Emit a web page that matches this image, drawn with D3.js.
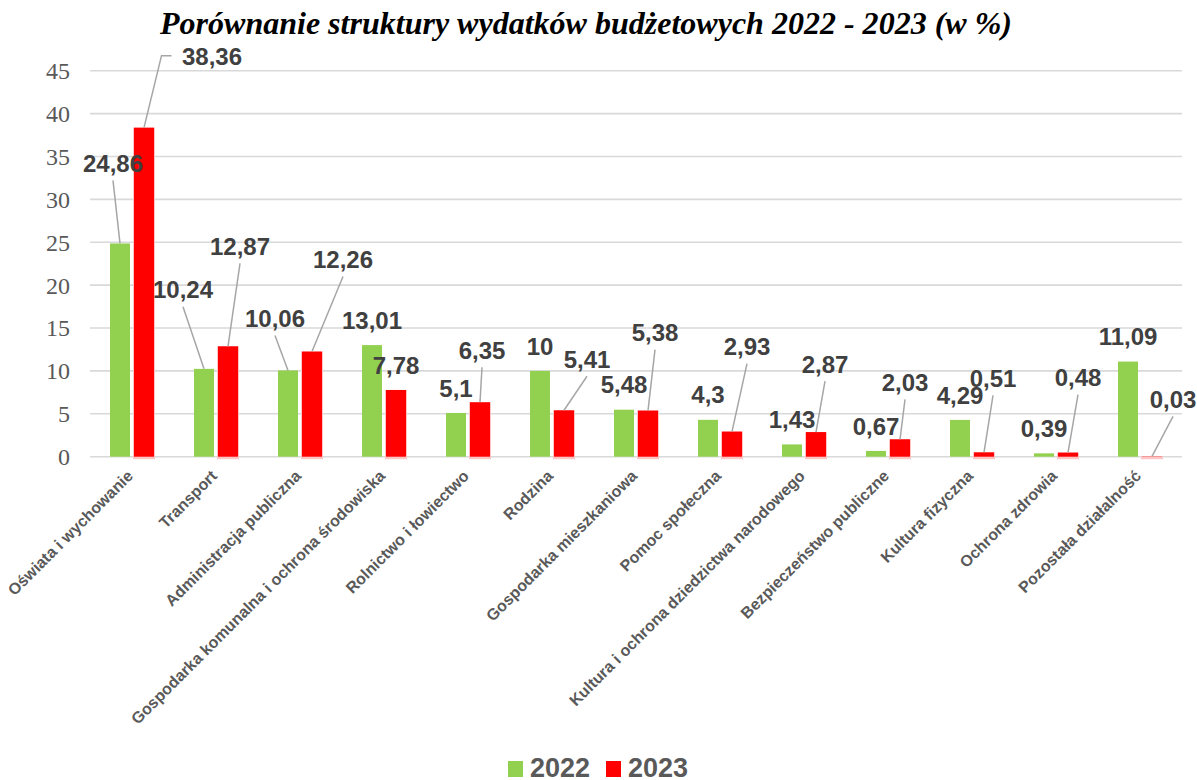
<!DOCTYPE html>
<html>
<head>
<meta charset="utf-8">
<script src="https://cdn.jsdelivr.net/npm/d3@7"></script>
<style>
  body { margin: 0; background: white; }
</style>
</head>
<body>
<div id="chart"></div>
<script>
// data
const categories = [
  "Oświata i wychowanie", "Transport", "Administracja publiczna",
  "Gospodarka komunalna i ochrona środowiska", "Rolnictwo i łowiectwo", "Rodzina",
  "Gospodarka mieszkaniowa", "Pomoc społeczna", "Kultura i ochrona dziedzictwa narodowego",
  "Bezpieczeństwo publiczne", "Kultura fizyczna", "Ochrona zdrowia", "Pozostała działalność"
];
const series = ["2022", "2023"];
const values2022 = [24.86, 10.24, 10.06, 13.01, 5.1, 10, 5.48, 4.3, 1.43, 0.67, 4.29, 0.39, 11.09];
const values2023 = [38.36, 12.87, 12.26, 7.78, 6.35, 5.41, 5.38, 2.93, 2.87, 2.03, 0.51, 0.48, 0.03];
const yTicks = [0, 5, 10, 15, 20, 25, 30, 35, 40, 45];

// manual label nudges (px) as placed in the original chart, [dx, dy]
const shift2022 = [[-7,-55],[-21,-54],[-13,-27],[0,0],[0,0],[0,0],[0,0],[0,0],[0,0],[0,0],[0,0],[0,0],[0,0]];
const shift2023 = [[68,-46],[12,-75],[31,-67],[0,0],[2,-27],[23,-26],[7,-53],[15,-60],[9,-43],[5,-32],[9,-49],[10,-50],[21,-32]];

const colors = { "2022": "#92d050", "2023": "#ff0000" };

let w = 1197, h = 780;
let plotLeft = 90, plotRight = 1182, plotTop = 70.7, plotBottom = 456.7;

let svg = d3.select("#chart").append("svg")
    .attr("width", w)
    .attr("height", h)
    .style("background-color", "white");

// title
svg.append("text")
    .attr("x", 160)
    .attr("y", 34)
    .attr("textLength", 852)
    .attr("lengthAdjust", "spacingAndGlyphs")
    .style("font-family", "'Liberation Serif', 'Times New Roman', serif")
    .style("font-weight", "bold")
    .style("font-style", "italic")
    .style("font-size", "32px")
    .style("fill", "#000")
    .text("Porównanie struktury wydatków budżetowych 2022 - 2023 (w %)");

let y = d3.scaleLinear().domain([0, 45]).range([plotBottom, plotTop]);

let x0 = d3.scaleBand().domain(categories).range([plotLeft, plotRight])
    .paddingInner(0.476).paddingOuter(0.238);
let x1 = d3.scaleBand().domain(series).range([0, x0.bandwidth()])
    .paddingInner(0.1667);

// gridlines
svg.append("g").selectAll("line").data(yTicks).enter()
  .append("line")
    .attr("x1", plotLeft)
    .attr("x2", plotRight)
    .attr("y1", d => y(d))
    .attr("y2", d => y(d))
    .attr("stroke", "#d9d9d9")
    .attr("stroke-width", 1.6);

// y axis labels
let yAxis = d3.axisLeft(y).tickValues(yTicks).tickSize(0).tickPadding(20);
let yg = svg.append("g").attr("transform", `translate(${plotLeft},0)`).call(yAxis);
yg.select(".domain").remove();
yg.selectAll("text")
    .attr("dy", "0.33em")
    .style("font-family", "'Liberation Serif', 'Times New Roman', serif")
    .style("font-size", "24px")
    .style("fill", "#595959");

let rows = categories.map((c, i) => ({ cat: c, i: i, "2022": values2022[i], "2023": values2023[i] }));

let groups = svg.append("g").selectAll("g").data(rows).enter()
  .append("g")
    .attr("transform", d => `translate(${x0(d.cat)},0)`);

// soft shadow under red bars
groups.append("rect")
    .attr("x", x1("2023") - 1)
    .attr("y", d => y(d["2023"]))
    .attr("width", x1.bandwidth() + 2)
    .attr("height", d => plotBottom - y(d["2023"]) + 2.5)
    .attr("fill", "#ffc4c4");

series.forEach(s => {
  groups.append("rect")
      .attr("x", x1(s))
      .attr("y", d => y(d[s]))
      .attr("width", x1.bandwidth())
      .attr("height", d => plotBottom - y(d[s]))
      .attr("fill", colors[s]);
});

// data labels + leader lines
let fmt = v => String(v).replace(".", ",");
let labelLayer = svg.append("g");

series.forEach(s => {
  let shifts = s === "2022" ? shift2022 : shift2023;
  rows.forEach(d => {
    let bx = x0(d.cat) + x1(s) + x1.bandwidth() / 2;
    let by = y(d[s]);
    let sh = shifts[d.i];
    let lx = bx + sh[0];
    let ly = by - 25 + sh[1];
    let txt = fmt(d[s]);
    let halfW = txt.length * 6.5;

    if (sh[0] !== 0 || sh[1] !== 0) {
      let pts;
      if (Math.abs(sh[0]) > halfW + 10) {
        // connect to side of label with a short horizontal run
        let sx = lx - halfW - 8;
        pts = [[bx, by], [sx - 10, ly - 1], [sx, ly - 1]];
      } else {
        pts = [[bx, by], [lx, ly + 17]];
      }
      labelLayer.append("path")
          .attr("d", d3.line()(pts))
          .attr("fill", "none")
          .attr("stroke", "#a6a6a6")
          .attr("stroke-width", 1.5);
    }

    labelLayer.append("text")
        .attr("x", lx)
        .attr("y", ly + 8.6)
        .attr("text-anchor", "middle")
        .style("font-family", "'Liberation Sans', Arial, sans-serif")
        .style("font-weight", "bold")
        .style("font-size", "24px")
        .style("fill", "#404040")
        .text(txt);
  });
});

// category labels
svg.append("g").selectAll("text").data(categories).enter()
  .append("text")
    .attr("transform", d => `translate(${x0(d) + x0.bandwidth() / 2 + 2},477) rotate(-45)`)
    .attr("text-anchor", "end")
    .style("font-family", "'Liberation Sans', Arial, sans-serif")
    .style("font-weight", "bold")
    .style("font-size", "16px")
    .style("fill", "#595959")
    .text(d => d);

// legend
let legend = svg.append("g");
let legendX = [508, 606];
series.forEach((s, i) => {
  legend.append("rect")
      .attr("x", legendX[i])
      .attr("y", 761)
      .attr("width", 15)
      .attr("height", 16)
      .attr("fill", colors[s]);
  legend.append("text")
      .attr("x", legendX[i] + 22)
      .attr("y", 777)
      .style("font-family", "'Liberation Sans', Arial, sans-serif")
      .style("font-weight", "bold")
      .style("font-size", "27px")
      .style("fill", "#595959")
      .text(s);
});
</script>
</body>
</html>
